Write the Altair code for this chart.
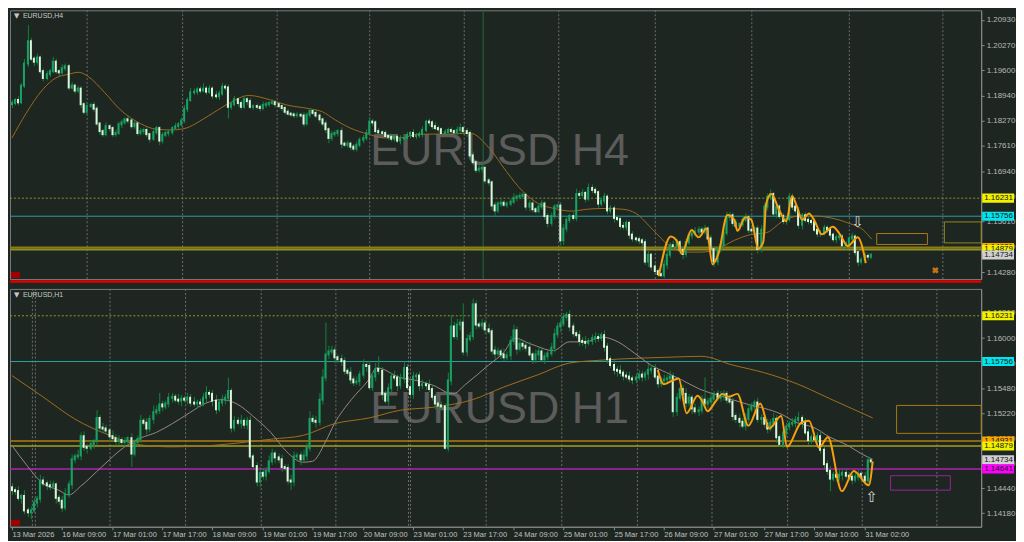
import altair as alt
import pandas as pd

# ---------------- data (prices in pips above 1.14000) ----------------
H4_OPEN0 = 471
H4_CLOSE = [
    474,482,476,520,578,637,591,583,594,558,
    540,550,558,583,558,555,566,571,515,520,
    507,512,471,451,466,469,459,420,400,392,
    413,408,392,395,418,423,431,428,413,420,
    395,400,403,392,380,397,408,375,390,395,
    397,408,413,418,428,459,482,502,504,510,
    507,512,504,512,494,492,499,517,515,464,
    471,484,474,464,484,479,464,466,464,461,
    469,471,474,476,471,466,461,451,446,444,
    442,443,441,420,443,453,448,441,431,420,
    405,382,392,395,400,367,364,367,359,354,
    364,377,382,395,425,423,400,397,395,387,
    385,380,385,375,380,382,390,395,387,389,
    392,403,425,423,413,408,405,395,397,403,
    400,397,403,408,400,395,336,318,298,301,
    303,270,265,204,191,209,211,206,209,214,
    224,227,229,232,201,209,194,189,201,209,
    176,158,176,201,204,112,143,166,176,171,
    234,232,237,222,250,245,239,209,217,227,
    191,196,171,168,150,148,158,127,117,115,
    112,107,56,74,43,31,23,20,48,74,
    99,97,107,87,76,107,125,130,135,140,
    135,143,117,89,56,89,99,132,173,178,
    158,150,155,166,173,140,138,143,89,140,
    201,227,234,183,201,176,163,168,227,201,
    191,153,178,166,163,160,140,130,132,145,
    140,127,115,120,122,99,102,117,122,81,
    56,61,71,69,74]
H4_WICK_UP = [
    8,5,10,6,12,43,9,6,10,5, 7,9,6,13,8,5,10,7,6,9,
    5,8,7,6,9,5,8,7,4,6, 10,5,6,9,7,8,5,11,6,7,
    5,8,6,7,4,9,6,5,8,6, 7,5,9,6,8,10,7,12,9,6,
    8,14,7,9,6,12,8,10,7,8, 6,9,5,7,10,6,8,5,7,6,
    9,7,5,8,6,7,5,6,8,5, 6,7,5,9,6,8,5,7,6,5,
    8,6,9,7,5,10,6,8,5,7, 9,6,8,10,12,7,6,8,5,7,
    6,8,5,7,9,6,8,5,10,6, 7,9,5,8,6,10,7,5,8,6,
    7,5,9,12,6,8,7,10,6,9, 8,6,7,5,9,6,10,7,5,8,
    12,6,9,7,5,10,8,6,7,9, 6,8,10,7,5,9,12,8,6,10,
    14,8,10,6,12,9,7,5,8,10, 6,9,7,8,5,10,7,6,9,5,
    7,6,8,10,6,9,7,5,12,10, 8,12,9,6,10,11,8,7,12,9,
    8,10,6,9,7,8,10,12,14,9, 7,9,6,8,10,7,9,6,8,12,
    10,9,12,6,9,7,8,6,10,8, 7,9,6,8,7,6,9,5,7,8,
    6,8,5,7,9,6,8,7,10,6, 8,6,9,7,5]
H4_WICK_DN = [
    10,6,8,5,7,9,6,12,8,7, 9,6,8,5,7,10,6,8,7,5,
    8,6,10,7,9,5,8,6,10,7, 6,9,8,7,5,10,6,8,7,9,
    7,6,9,8,10,6,7,12,8,6, 9,7,5,8,6,7,9,5,6,8,
    7,5,8,6,9,7,10,6,8,31, 8,6,9,7,5,10,6,8,7,9,
    6,8,7,5,9,6,8,7,5,6, 8,7,6,9,5,8,6,7,9,8,
    10,14,8,7,9,12,6,8,10,7, 8,6,9,7,5,10,6,8,7,6,
    9,7,8,6,10,7,5,9,6,8, 7,9,6,10,8,6,9,7,5,8,
    6,8,7,9,5,10,12,9,8,7, 10,8,9,12,14,7,9,6,8,7,
    6,9,7,8,10,12,9,7,6,8, 10,12,9,8,7,14,12,10,8,7,
    9,7,8,10,6,9,8,11,7,9, 10,8,12,7,9,8,10,11,9,8,
    10,12,9,14,10,8,7,5,8,12, 9,10,8,12,14,9,7,10,8,9,
    10,8,12,9,14,10,9,7,8,10, 9,7,10,8,6,9,8,10,12,9,
    8,10,9,7,12,8,9,10,7,9, 8,10,12,7,9,8,6,10,9,7,
    8,9,7,10,8,9,11,7,8,9, 12,8,9,10,7]

H1_OPEN0 = 45
H1_CLOSE = [
    42,41,34,36,21,19,21,29,33,52,
    49,47,46,48,34,31,24,38,48,74,
    77,78,98,87,86,90,93,117,107,106,
    104,98,96,93,94,92,93,96,80,92,
    95,114,112,106,116,123,125,131,129,132,
    138,139,136,135,137,136,138,133,132,133,
    132,138,143,142,135,126,133,136,138,145,
    107,114,112,114,110,114,77,67,51,60,
    57,62,72,80,76,74,66,65,52,51,
    77,78,74,78,86,116,114,113,136,159,
    183,186,187,180,178,176,166,164,157,154,
    155,162,172,171,149,160,168,166,142,135,
    148,160,159,151,158,169,149,142,160,161,
    151,152,151,147,139,132,130,129,86,156,
    212,202,214,216,186,199,202,235,214,213,
    215,209,207,187,184,186,183,180,182,197,
    208,189,194,192,190,183,178,183,186,178,
    181,184,190,204,212,215,222,224,212,205,
    203,197,196,195,197,200,201,200,203,191,
    178,172,167,166,164,161,160,158,157,159,
    162,160,163,167,168,160,153,156,157,158,
    160,124,138,147,142,133,138,127,124,125,
    136,132,134,137,142,138,140,142,136,134,
    119,116,113,109,116,126,129,133,116,117,
    111,106,112,116,97,90,102,108,111,112,
    115,117,112,102,94,97,95,98,84,69,
    62,54,58,56,58,60,57,56,53,56,
    59,56,52,73,72]
H1_WICK_UP = [
    4,3,5,2,6,3,4,5,3,6, 4,3,5,4,2,3,5,6,4,5,
    3,6,4,5,3,4,2,8,3,5, 4,3,6,4,5,3,4,2,5,3,
    4,6,3,5,4,7,5,12,4,3, 5,4,3,6,4,3,5,4,6,3,
    4,5,7,3,4,6,3,5,4,14, 3,5,4,6,3,4,5,3,4,6,
    5,4,6,5,3,4,5,3,4,6, 5,3,4,6,5,8,4,5,7,9,
    33,6,5,4,3,5,4,3,6,4, 5,4,6,3,5,4,6,13,4,3,
    5,4,6,3,5,7,4,6,5,3, 4,5,3,6,4,3,5,4,3,8,
    12,5,6,4,20,5,4,6,4,3, 5,4,6,3,5,4,3,6,4,5,
    6,4,5,3,4,6,3,5,4,5, 4,3,5,6,4,5,4,3,5,4,
    3,5,4,6,3,4,5,4,3,5, 4,3,5,4,6,3,4,5,3,4,
    5,4,3,6,4,5,3,4,5,4, 6,4,5,3,4,6,4,3,5,4,
    5,23,4,6,3,4,5,4,3,5, 4,3,5,4,6,5,4,3,5,4,
    3,5,4,6,4,3,5,4,3,5, 4,6,3,5,4,3,5,4,6,3,
    4,5,3,4,6,3,5,4,3,5, 4,3,5,4,2]
H1_WICK_DN = [
    5,4,3,6,4,5,7,3,5,4, 3,5,4,3,6,4,5,3,4,5,
    4,3,5,4,6,3,5,4,3,5, 4,6,3,5,4,3,5,4,14,3,
    5,4,3,6,4,5,3,4,5,3, 4,5,3,4,6,3,5,4,3,5,
    4,3,5,4,6,5,3,4,5,3, 5,4,3,6,4,5,3,4,5,6,
    4,5,3,4,6,4,5,3,4,9, 5,4,6,3,5,4,3,6,4,5,
    4,5,3,6,4,5,4,3,5,4, 3,5,4,6,3,4,5,4,6,3,
    5,4,3,6,4,5,3,4,5,4, 6,4,5,3,4,6,5,4,2,4,
    5,3,4,6,4,5,3,4,5,3, 4,5,3,4,6,3,5,4,3,5,
    4,6,3,5,4,3,5,4,6,3, 5,4,3,5,4,6,3,4,5,4,
    3,5,4,6,3,4,5,4,3,5, 4,3,5,6,4,5,3,4,5,4,
    3,5,4,6,4,3,5,4,3,5, 4,6,5,3,4,5,4,6,3,5,
    4,3,5,4,6,3,4,5,4,3, 5,4,6,3,5,4,3,5,4,6,
    4,5,3,4,6,3,4,5,4,3, 5,4,6,3,5,4,3,6,4,5,
    4,13,3,5,4,6,3,4,5,3, 4,6,5,4,3]

H4_MA_I = [0,4.6,9.8,14,18,21.2,24.3,29.5,34.7,41,46,51,55.5,59.6,64.8,70,75.7,82.5,87.6,95,
           99,103,108,113.6,118.8,124,130,134.4,139.6,146.2,152.5,157.7,162.9,168,173.2,178.4,
           183.6,188.8,195,199.2,204.4,209.6,214.8,220,225.2,230.4,235.6,240.7,246,251.1,256.3,
           261.5,266.7,271.9,274.5]
H4_MA_P = [382,446,510,540,550,555,545,502,456,420,405,403,408,425,451,476,494,482,469,459,
           451,431,408,392,382,382,392,392,392,395,354,293,242,209,196,189,194,196,194,183,
           140,99,81,81,89,112,127,132,163,176,176,171,158,138,115]
H4_ZZ_I = [206.5,210.2,212.3,213.8,216.9,219.0,221.6,223.7,225.5,228.3,230.4,231.5,234.1,236.1,
           238.2,239.8,240.8,242.4,245.0,247.0,249.1,250.7,252.2,254.3,255.9,258.5,262.1,264.2,
           266.8,269.9,271.4,272.5]
H4_ZZ_P = [18,122,107,77,139,120,143,49,77,179,166,137,173,166,90,107,209,234,192,162,228,200,
           166,183,166,128,148,128,97,120,90,52]

H1_MA_SLOW_I = [0,10,20,31,41,51,62,72,83,93,103,114,124,134,147,157,168,178,188,199,209,220,
                230,240,251,261,274.6]
H1_MA_SLOW_P = [161,139,116,99,89,87,88,91,95,99,111,117,125,128,136,149,162,174,177,179,180,
                181,172,164,152,137,117]
H1_MA_FAST_I = [0.4,4.6,9.8,15,18,22,28.5,35.7,41,46,51,56.5,61.7,67,72,77,82.5,87.6,92.8,96,
                100,103,108.4,113.6,116.7,124,129,134.4,140.6,144.8,152,157.2,160.3,165.5,172.8,
                178,183,188.4,193.5,198.8,204,209,214,219.5,224.7,230,235,240,245.5,250.7,256,
                261,266.3,271.4,274.6]
H1_MA_FAST_P = [87,69,49,42,37,46,66,86,96,102,111,122,132,136,131,119,102,82,71,72,
                92,111,136,156,169,159,156,151,142,152,172,186,200,194,187,196,196,201,196,184,
                172,164,156,147,141,136,131,127,121,112,107,97,89,79,74]
H1_ZZ_I = [206.0,208.1,210.1,212.7,215.3,218.9,220.5,222.0,224.6,226.7,228.8,231.4,235.0,238.7,
           241.8,245.4,247.5,251.7,254.3,257.4,260.5,264.7,268.8,273.5,274.6]
H1_ZZ_P = [167,152,155,158,122,140,134,124,134,142,139,142,109,132,106,119,87,112,114,86,97,
           41,62,47,72]

H4_GRID = [24.0, 54.2, 84.4, 114.0, 144.2, 174.5, 205.3, 235.8, 267.0, 296.9]
H4_SEPARATOR = [150.2]
H1_GRID = [6.5, 7.2, 31.2, 55.3, 79.3, 103.2, 126.3, 127.2, 151.3, 175.3, 199.3, 223.3,
           247.3, 271.3, 294.9]
H1_LABEL_POS = [0,16,32,48,64,80,96,112,128,144,160,176,192,208,224,240,256,272]
H1_LABELS = ["13 Mar 2026","16 Mar 09:00","17 Mar 01:00","17 Mar 17:00","18 Mar 09:00",
             "19 Mar 01:00","19 Mar 17:00","20 Mar 09:00","23 Mar 01:00","23 Mar 17:00",
             "24 Mar 09:00","25 Mar 01:00","25 Mar 17:00","26 Mar 09:00","27 Mar 01:00",
             "27 Mar 17:00","30 Mar 10:00","31 Mar 02:00"]
TOP_TICKS = [1.20930,1.20270,1.19600,1.18940,1.18270,1.17610,1.16940,1.16280,1.15610,1.14950,1.14280]
BOT_TICKS = [1.16260,1.16000,1.15740,1.15480,1.15220,1.14960,1.14700,1.14440,1.14180]

TOP_LEVELS = [1.16231, 1.15756, 1.14931, 1.14879]
BOT_LEVELS = [1.16231, 1.15756, 1.14931, 1.14879, 1.14641]
TOP_BOXES = {"i0": [276.0, 297.5], "i1": [292.2, 309.2], "p0": [1.15300, 1.15605], "p1": [1.15011, 1.15052]}
BOT_BOXES = {"i0": [282.2, 280.4], "i1": [309.2, 299.4], "p0": [1.15300, 1.14570], "p1": [1.15010, 1.14420]}
TOP_CROSS = {"i": [294.7], "p": [1.14330]}
TOP_ARROW = {"i": [270.0], "p": [1.15600]}
BOT_ARROW = {"i": [274.5], "p": [1.14350]}
TOP_TAGS = [1.16231, 1.15756, 1.14931, 1.14879, 1.14734]
BOT_TAGS = [1.16231, 1.15756, 1.14931, 1.14879, 1.14734, 1.14641]

# ---------------- style ----------------
W, HT, HB, AX = 976, 270, 239, 33
XDOM = [-0.6, 309.3]
TOP_DOM = [1.14101, 1.21185]
BOT_DOM = [1.14040, 1.16510]
BG = "#1e2621"
BULL, BEAR, WICK = "#17a265", "#dcf3dc", "#15803c"
FONT = "Liberation Sans"
TOP_LEVEL_STYLE = [("#8f8f2a", 1, True), ("#2c9ea0", 1, False), ("#8a7a18", 2, False), ("#8f8f22", 2, False)]
BOT_LEVEL_STYLE = [("#9a9a2a", 1, True), ("#2aa3a5", 1, False), ("#b07d12", 1.5, False),
                   ("#9f9f22", 1.5, False), ("#b021b0", 1.5, False)]
TOP_BOX_COLORS = ["#a87a12", "#8a8a20"]
BOT_BOX_COLORS = ["#a87a12", "#9a209a"]
TOP_TAG_COLORS = ["#f2f200", "#00e6ee", "#ffa500", "#f2f200", "#d0d0d0"]
BOT_TAG_COLORS = ["#f2f200", "#00e6ee", "#ffa500", "#f2f200", "#d0d0d0", "#ff00ff"]


def price(p):
    return round(1.14 + p / 10000.0, 5)


def candles(close, wu, wd, open0):
    rows, prev = [], open0
    for i, (c, u, d) in enumerate(zip(close, wu, wd)):
        o = prev
        rows.append({"i": i, "open": price(o), "close": price(c),
                     "high": price(max(o, c) + u), "low": price(min(o, c) - d),
                     "dir": "up" if c >= o else "down"})
        prev = c
    return pd.DataFrame(rows)


def yaxis(ticks):
    return alt.Axis(orient="right", values=ticks, labelExpr="format(datum.value, '.5f')",
                    tickSize=3, labelPadding=2, labelFontSize=8, labelFont=FONT,
                    labelColor="#b8b8b8", tickColor="#8a8a8a", domainColor="#8a8a8a",
                    grid=False, minExtent=AX, maxExtent=AX, labelOverlap=False, labelFlush=False)


def build(cdf, dom, ticks, height, xaxis, grid, seps, levels, lstyle, boxes, bcolors, mas,
          zz, tags, tcolors, wm_text, wm_y, corner, arrow, arrow_glyph, cross=None, red_sep=False):
    ya = yaxis(ticks)
    X = lambda f: alt.X(f"{f}:Q", scale=alt.Scale(domain=XDOM, nice=False, zero=False, round=True),
                        axis=xaxis, title=None)
    Y = lambda f: alt.Y(f"{f}:Q", scale=alt.Scale(domain=dom, nice=False, zero=False),
                        axis=ya, title=None)
    L = []
    L.append(alt.Chart(pd.DataFrame({"t": [wm_text]})).mark_text(
        font=FONT, fontSize=45, color="#5c5c5c", align="center", baseline="alphabetic"
    ).encode(text="t:N", x=alt.value(492), y=alt.value(wm_y)))
    L.append(alt.Chart(pd.DataFrame({"i": grid})).mark_rule(
        color="#6e6e6e", strokeDash=[2, 2], strokeWidth=1, xOffset=0.5
    ).encode(x=X("i"), y=alt.value(0), y2=alt.value(height)))
    if seps:
        L.append(alt.Chart(pd.DataFrame({"i": seps})).mark_rule(
            color="#1f6e3a", strokeWidth=1, xOffset=0.5
        ).encode(x=X("i"), y=alt.value(0), y2=alt.value(height)))
    for p, (col, sw, dotted) in zip(levels, lstyle):
        kw = {"strokeDash": [2, 2]} if dotted else {}
        L.append(alt.Chart(pd.DataFrame({"p": [p]})).mark_rule(color=col, strokeWidth=sw, **kw)
                 .encode(y=Y("p"), x=alt.value(0), x2=alt.value(W)))
    bdf = pd.DataFrame(boxes)
    bdf["c"] = bcolors
    L.append(alt.Chart(bdf).mark_rect(fillOpacity=0, strokeWidth=1).encode(
        x=X("i0"), x2="i1:Q", y=Y("p0"), y2="p1:Q", stroke=alt.Color("c:N", scale=None)))
    for (mi, mp, col, sw) in mas:
        L.append(alt.Chart(pd.DataFrame({"i": mi, "p": [price(v) for v in mp]})).mark_line(
            color=col, strokeWidth=sw, interpolate="monotone").encode(x=X("i"), y=Y("p")))
    L.append(alt.Chart(cdf).mark_rule(color=WICK, strokeWidth=1, xOffset=0.5).encode(
        x=X("i"), y=Y("low"), y2="high:Q"))
    L.append(alt.Chart(cdf).mark_rule(strokeWidth=2, strokeCap="square").encode(
        x=X("i"), y=Y("open"), y2="close:Q",
        color=alt.Color("dir:N", scale=alt.Scale(domain=["up", "down"], range=[BULL, BEAR]), legend=None)))
    zi, zp = zz
    L.append(alt.Chart(pd.DataFrame({"i": zi, "p": [price(v) for v in zp]})).mark_line(
        color="#f5a00c", strokeWidth=2, interpolate="monotone").encode(x=X("i"), y=Y("p")))
    if cross:
        L.append(alt.Chart(pd.DataFrame(cross)).mark_point(
            shape="cross", angle=45, filled=True, size=45, color="#c8731a", opacity=1
        ).encode(x=X("i"), y=Y("p")))
    adf = pd.DataFrame(arrow)
    adf["t"] = [arrow_glyph]
    L.append(alt.Chart(adf).mark_text(font="DejaVu Sans", fontSize=15, color="#d8d8d8",
                                      baseline="middle", align="center").encode(
        x=X("i"), y=Y("p"), text="t:N"))
    half = (dom[1] - dom[0]) / height * 4.6
    for p, col in zip(tags, tcolors):
        tdf = pd.DataFrame({"p": [p], "p1": [p - half], "p2": [p + half], "t": [f"{p:.5f}"]})
        L.append(alt.Chart(tdf).mark_rect(color=col).encode(
            x=alt.value(W + 1), x2=alt.value(W + AX), y=Y("p1"), y2="p2:Q"))
        L.append(alt.Chart(tdf).mark_text(font=FONT, fontSize=8, color="#111111", align="left",
                                          baseline="middle").encode(
            x=alt.value(W + 3), y=Y("p"), text="t:N"))
    L.append(alt.Chart(pd.DataFrame({"t": ["\u25bc"]})).mark_text(
        font="DejaVu Sans", fontSize=7, color="#c8c8c8", align="left", baseline="middle"
    ).encode(text="t:N", x=alt.value(4), y=alt.value(6)))
    L.append(alt.Chart(pd.DataFrame({"t": [corner]})).mark_text(
        font=FONT, fontSize=7, color="#c8c8c8", align="left", baseline="middle"
    ).encode(text="t:N", x=alt.value(13), y=alt.value(6)))
    L.append(alt.Chart(pd.DataFrame({"t": [0]})).mark_rect(color="#a00000").encode(
        x=alt.value(1), x2=alt.value(10), y=alt.value(height - 7), y2=alt.value(height - 1)))
    if red_sep:
        L.append(alt.Chart(pd.DataFrame({"t": [0]})).mark_rule(color="#e00000", strokeWidth=2.5).encode(
            x=alt.value(0), x2=alt.value(W), y=alt.value(height + 2.5)))
    return alt.layer(*L).properties(width=W, height=height)


h4 = candles(H4_CLOSE, H4_WICK_UP, H4_WICK_DN, H4_OPEN0)
h1 = candles(H1_CLOSE, H1_WICK_UP, H1_WICK_DN, H1_OPEN0)

label_expr = "[" + ",".join(f"'{t}'" for t in H1_LABELS) + "][round(datum.value / 16)]"
bottom_xaxis = alt.Axis(values=H1_LABEL_POS, labelExpr=label_expr, tickSize=3, labelPadding=1,
                        labelAlign="left", labelFontSize=7.5, labelFont=FONT, labelColor="#c0c0c0",
                        tickColor="#8a8a8a", domainColor="#8a8a8a", grid=False, labelFlush=False,
                        labelOverlap=False, minExtent=12, maxExtent=12)

top = build(h4, TOP_DOM, TOP_TICKS, HT, None, H4_GRID, H4_SEPARATOR, TOP_LEVELS, TOP_LEVEL_STYLE,
            TOP_BOXES, TOP_BOX_COLORS, [(H4_MA_I, H4_MA_P, "#9b6a1e", 1)], (H4_ZZ_I, H4_ZZ_P),
            TOP_TAGS, TOP_TAG_COLORS, "EURUSD H4", 155, "EURUSD,H4", TOP_ARROW, "\u21e9",
            cross=TOP_CROSS, red_sep=True)
bottom = build(h1, BOT_DOM, BOT_TICKS, HB, bottom_xaxis, H1_GRID, [], BOT_LEVELS, BOT_LEVEL_STYLE,
               BOT_BOXES, BOT_BOX_COLORS,
               [(H1_MA_SLOW_I, H1_MA_SLOW_P, "#a36d1d", 1), (H1_MA_FAST_I, H1_MA_FAST_P, "#9a8585", 1)],
               (H1_ZZ_I, H1_ZZ_P), BOT_TAGS, BOT_TAG_COLORS, "EURUSD H1", 135, "EURUSD,H1",
               BOT_ARROW, "\u21e7")

chart = alt.vconcat(top, bottom, spacing=4).properties(
    padding={"left": 0, "top": 0, "right": 0, "bottom": 0}
).configure(background=BG).configure_view(stroke="#7a7a7a", strokeWidth=1)

chart.save("out.html", embed_options={"renderer": "svg", "actions": False})
